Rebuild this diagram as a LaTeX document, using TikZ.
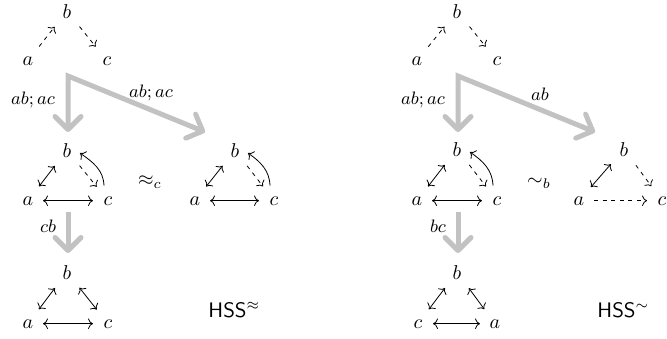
\documentclass[tikz,border=0pt]{standalone}
\usetikzlibrary{arrows.meta,calc}
\definecolor{arrgray}{RGB}{194,194,194}
\begin{document}
\begin{tikzpicture}[x=0.5pt,y=0.5pt,
  v/.style={inner sep=0pt, anchor=base},
  lbl/.style={inner sep=0pt, anchor=base, font=\small},
  upa/.style={shorten <=9pt, shorten >=10pt},
  dna/.style={shorten <=10pt, shorten >=9pt},
  hz/.style={shorten <=7.5pt, shorten >=7.5pt},
  dsh/.style={dash pattern=on 2pt off 2.3pt},
  bigarrow/.style={draw=arrgray, line width=2.5pt, line join=miter,
    {Straight Barb[length=6.5pt,width=13pt,round]}-{Straight Barb[length=6.5pt,width=13pt,round]}},
  bigone/.style={draw=arrgray, line width=2.5pt,
    -{Straight Barb[length=6.5pt,width=13pt,round]}},
  hss/.style={inner sep=0pt, anchor=base west, font=\fontsize{10.5}{12}\selectfont}
]
\useasboundingbox (0,0) rectangle (667,-338);

% ===================== LEFT PANEL =====================
% top triangle
\node[v] (L1b) at (67,-18) {$b$};
\node[v] (L1a) at (28,-65) {$a$};
\node[v] (L1c) at (107,-65) {$c$};
\draw[->,dsh,upa] (L1a.center) -- (L1b.center);
\draw[->,dsh,dna] (L1b.center) -- (L1c.center);

% gray arrows
\coordinate (Ls) at (68,-76);
\coordinate (Lt1) at (68,-132);
\coordinate (Lt2) at (205,-132);
\draw[bigarrow] (Lt1) -- (Ls) -- (Lt2);
\node[lbl] (Ll1) at (33,-104) {$ab;ac$};
\node[lbl] (Ll2) at (151,-97) {$ab;ac$};

% middle-left triangle
\node[v] (L2b) at (67,-157) {$b$};
\node[v] (L2a) at (28,-205) {$a$};
\node[v] (L2c) at (108,-205) {$c$};
\draw[<->,upa] (L2a.center) -- (L2b.center);
\draw[->,dsh,dna] (L2b.center) -- (L2c.center);
\draw[<->,hz] (L2a.center) -- (L2c.center);
\draw[->] ($(L2c.center)+(-4,15)$) to[out=92,in=-35] ($(L2b.center)+(13,-3)$);

\node[v] (Leq) at (150,-185) {$\approx_c$};

% middle-right triangle
\node[v] (L3b) at (235,-157) {$b$};
\node[v] (L3a) at (195,-205) {$a$};
\node[v] (L3c) at (274,-205) {$c$};
\draw[<->,upa] (L3a.center) -- (L3b.center);
\draw[->,dsh,dna] (L3b.center) -- (L3c.center);
\draw[<->,hz] (L3a.center) -- (L3c.center);
\draw[->] ($(L3c.center)+(-4,15)$) to[out=92,in=-35] ($(L3b.center)+(13,-3)$);

% lower gray arrow
\coordinate (Lu) at (68,-212);
\coordinate (Lv) at (68,-253);
\draw[bigone] (Lu) -- (Lv);
\node[lbl] (Ll3) at (48,-232) {$cb$};

% bottom triangle
\node[v] (L4b) at (67,-279) {$b$};
\node[v] (L4a) at (28,-328) {$a$};
\node[v] (L4c) at (108,-328) {$c$};
\draw[<->,upa] (L4a.center) -- (L4b.center);
\draw[<->,dna] (L4b.center) -- (L4c.center);
\draw[<->,hz] (L4a.center) -- (L4c.center);

\node[hss] (Lhss) at (208,-317) {\textsf{HSS}$^{\approx}$};

% ===================== RIGHT PANEL =====================
\node[v] (R1b) at (457,-18) {$b$};
\node[v] (R1a) at (417,-65) {$a$};
\node[v] (R1c) at (497,-65) {$c$};
\draw[->,dsh,upa] (R1a.center) -- (R1b.center);
\draw[->,dsh,dna] (R1b.center) -- (R1c.center);

\coordinate (Rs) at (458,-76);
\coordinate (Rt1) at (458,-132);
\coordinate (Rt2) at (595,-132);
\draw[bigarrow] (Rt1) -- (Rs) -- (Rt2);
\node[lbl] (Rl1) at (423,-104) {$ab;ac$};
\node[lbl] (Rl2) at (540,-100) {$ab$};

\node[v] (R2b) at (457,-156) {$b$};
\node[v] (R2a) at (417,-205) {$a$};
\node[v] (R2c) at (497,-205) {$c$};
\draw[<->,upa] (R2a.center) -- (R2b.center);
\draw[->,dsh,dna] (R2b.center) -- (R2c.center);
\draw[<->,hz] (R2a.center) -- (R2c.center);
\draw[->] ($(R2c.center)+(-4,15)$) to[out=92,in=-35] ($(R2b.center)+(13,-3)$);

\node[v] (Rsim) at (539,-185) {$\sim_b$};

\node[v] (R3b) at (624,-156) {$b$};
\node[v] (R3a) at (579,-205) {$a$};
\node[v] (R3c) at (662,-205) {$c$};
\draw[<->,upa] (R3a.center) -- (R3b.center);
\draw[->,dsh,dna] (R3b.center) -- (R3c.center);
\draw[->,dsh,hz] (R3a.center) -- (R3c.center);

\coordinate (Ru) at (458,-212);
\coordinate (Rv) at (458,-253);
\draw[bigone] (Ru) -- (Rv);
\node[lbl] (Rl3) at (438,-232) {$bc$};

\node[v] (R4b) at (457,-279) {$b$};
\node[v] (R4c) at (418,-328) {$c$};
\node[v] (R4a) at (495,-328) {$a$};
\draw[<->,upa] (R4c.center) -- (R4b.center);
\draw[<->,dna] (R4b.center) -- (R4a.center);
\draw[<->,hz] (R4c.center) -- (R4a.center);

\node[hss] (Rhss) at (597,-317) {\textsf{HSS}$^{\sim}$};
\end{tikzpicture}
\end{document}
